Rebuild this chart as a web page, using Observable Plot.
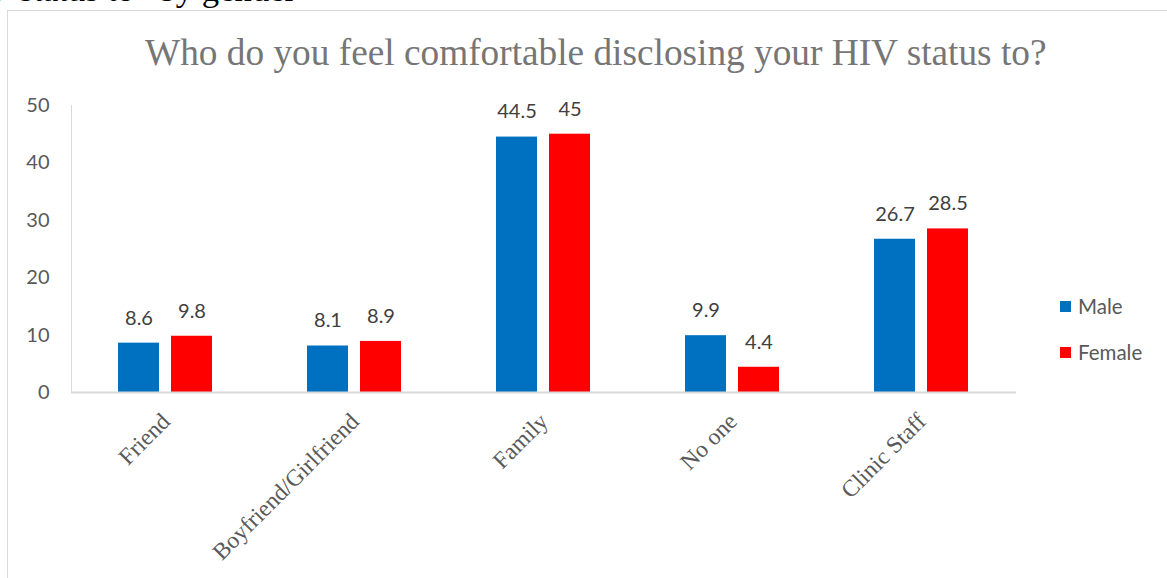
<!DOCTYPE html>
<html>
<head>
<meta charset="utf-8">
<script src="https://cdn.jsdelivr.net/npm/d3@7"></script>
<script src="https://cdn.jsdelivr.net/npm/@observablehq/plot@0.6"></script>
<style>
  html, body { margin: 0; padding: 0; background: #fff; }
  #wrap { position: relative; width: 1167px; height: 578px; overflow: hidden; background: #fff; }
  #wrap svg { position: absolute; left: 0; top: 0; }
  .ov { position: absolute; white-space: nowrap; }
</style>
</head>
<body>
<div id="wrap">
  <div class="ov" style="left:7px;top:10px;width:1300px;height:700px;border:1px solid #d9d9d9;box-sizing:border-box;"></div>
  <div class="ov" style="left:-50px;top:-28px;font:34.7px/35px 'Liberation Serif';color:#000;">HIV status to” by gender</div>
  <div id="chart"></div>
  <div class="ov" id="title" style="left:145px;top:34px;font:37.3px/37px 'Liberation Serif';color:#767676;"></div>
  <div class="ov" id="legend" style="left:1060px;top:293px;font:20.5px/26px Lato;color:#595959;"></div>
</div>
<script>
const categories = ["Friend", "Boyfriend/Girlfriend", "Family", "No one", "Clinic Staff"];
const genders = ["Male", "Female"];
const maleValues = [8.6, 8.1, 44.5, 9.9, 26.7];
const femaleValues = [9.8, 8.9, 45, 4.4, 28.5];
const yTicks = [0, 10, 20, 30, 40, 50];
const colors = ["#0070C0", "#FF0000"];
const titleText = "Who do you feel comfortable disclosing your HIV status to?";

const data = [];
categories.forEach((c, i) => {
  data.push({cat: c, gender: "Male", value: maleValues[i]});
  data.push({cat: c, gender: "Female", value: femaleValues[i]});
});

const chart = Plot.plot({
  width: 1167,
  height: 578,
  marginLeft: 70,
  marginRight: 150,
  marginTop: 105,
  marginBottom: 186,
  style: {background: "transparent", fontFamily: "Lato"},
  fx: {domain: categories, padding: 0, label: null},
  x: {domain: genders, paddingInner: 0.222, paddingOuter: 0.865, axis: null},
  y: {domain: [0, 50], label: null},
  color: {domain: genders, range: colors},
  marks: [
    Plot.frame({anchor: "left", stroke: "#d9d9d9", facet: "super"}),
    Plot.barY(data, {fx: "cat", x: "gender", y: "value", fill: "gender"}),
    Plot.ruleY([0], {stroke: "#d9d9d9", strokeWidth: 2}),
    Plot.text(data, {fx: "cat", x: "gender", y: "value", text: d => String(d.value), dy: -25, fill: "#404040", fontSize: 20}),
    Plot.axisY({ticks: yTicks, tickSize: 0, tickPadding: 22, fontSize: 20, fill: "#595959", label: null}),
    Plot.axisFx({anchor: "bottom", tickRotate: -45, tickSize: 0, tickPadding: 25, fontSize: 23.5, fontFamily: "Liberation Serif", fill: "#595959", label: null})
  ]
});
document.getElementById("chart").appendChild(chart);
document.getElementById("title").textContent = titleText;

const legend = document.getElementById("legend");
genders.forEach((g, i) => {
  const row = document.createElement("div");
  row.style.cssText = "display:flex;align-items:center;height:26px;margin-bottom:20px;";
  const sw = document.createElement("span");
  sw.style.cssText = `display:inline-block;width:11px;height:11px;background:${colors[i]};margin-right:7px;`;
  const t = document.createElement("span");
  t.textContent = g;
  row.appendChild(sw);
  row.appendChild(t);
  legend.appendChild(row);
});
</script>
</body>
</html>
